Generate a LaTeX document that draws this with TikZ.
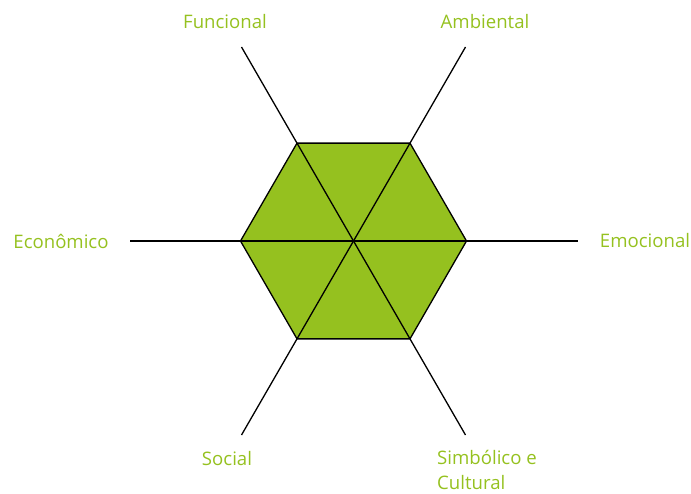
\documentclass[tikz,border=0pt]{standalone}
\usepackage{fontspec}
\setmainfont{Open Sans}
\usetikzlibrary{calc}
\definecolor{lgreen}{HTML}{95C11F}
\begin{document}
\begin{tikzpicture}[x=1pt,y=-1pt,
  lbl/.style={text=lgreen,font=\fontsize{18.6}{25}\selectfont,inner sep=0pt},
  ln/.style={line width=1.3pt,black}]
\useasboundingbox (0,0) rectangle (691,493);
\coordinate (c) at (353.5,241);
\foreach \a/\n in {0/e,60/ur,120/ul,180/w,240/ll,300/lr}{
  \coordinate (h\n) at ($(c)+(\a:113 and -113)$);
  \coordinate (o\n) at ($(c)+(\a:224 and -224)$);
}
\fill[lgreen] (he) -- (hur) -- (hul) -- (hw) -- (hll) -- (hlr) -- cycle;
\draw[ln] (he) -- (hur) -- (hul) -- (hw) -- (hll) -- (hlr) -- cycle;
\draw[ln] (oe) -- (ow);
\draw[ln] (our) -- (oll);
\draw[ln] (oul) -- (olr);
\node[lbl] (fun) at (225,22) {Funcional};
\node[lbl] (amb) at (485,22) {Ambiental};
\node[lbl] (eco) at (61,241) {Econômico};
\node[lbl] (emo) at (645,241) {Emocional};
\node[lbl] (soc) at (227,459) {Social};
\node[lbl,anchor=north west,align=left] (sim) at (437,450) {Simbólico e\\Cultural};
\end{tikzpicture}
\end{document}
